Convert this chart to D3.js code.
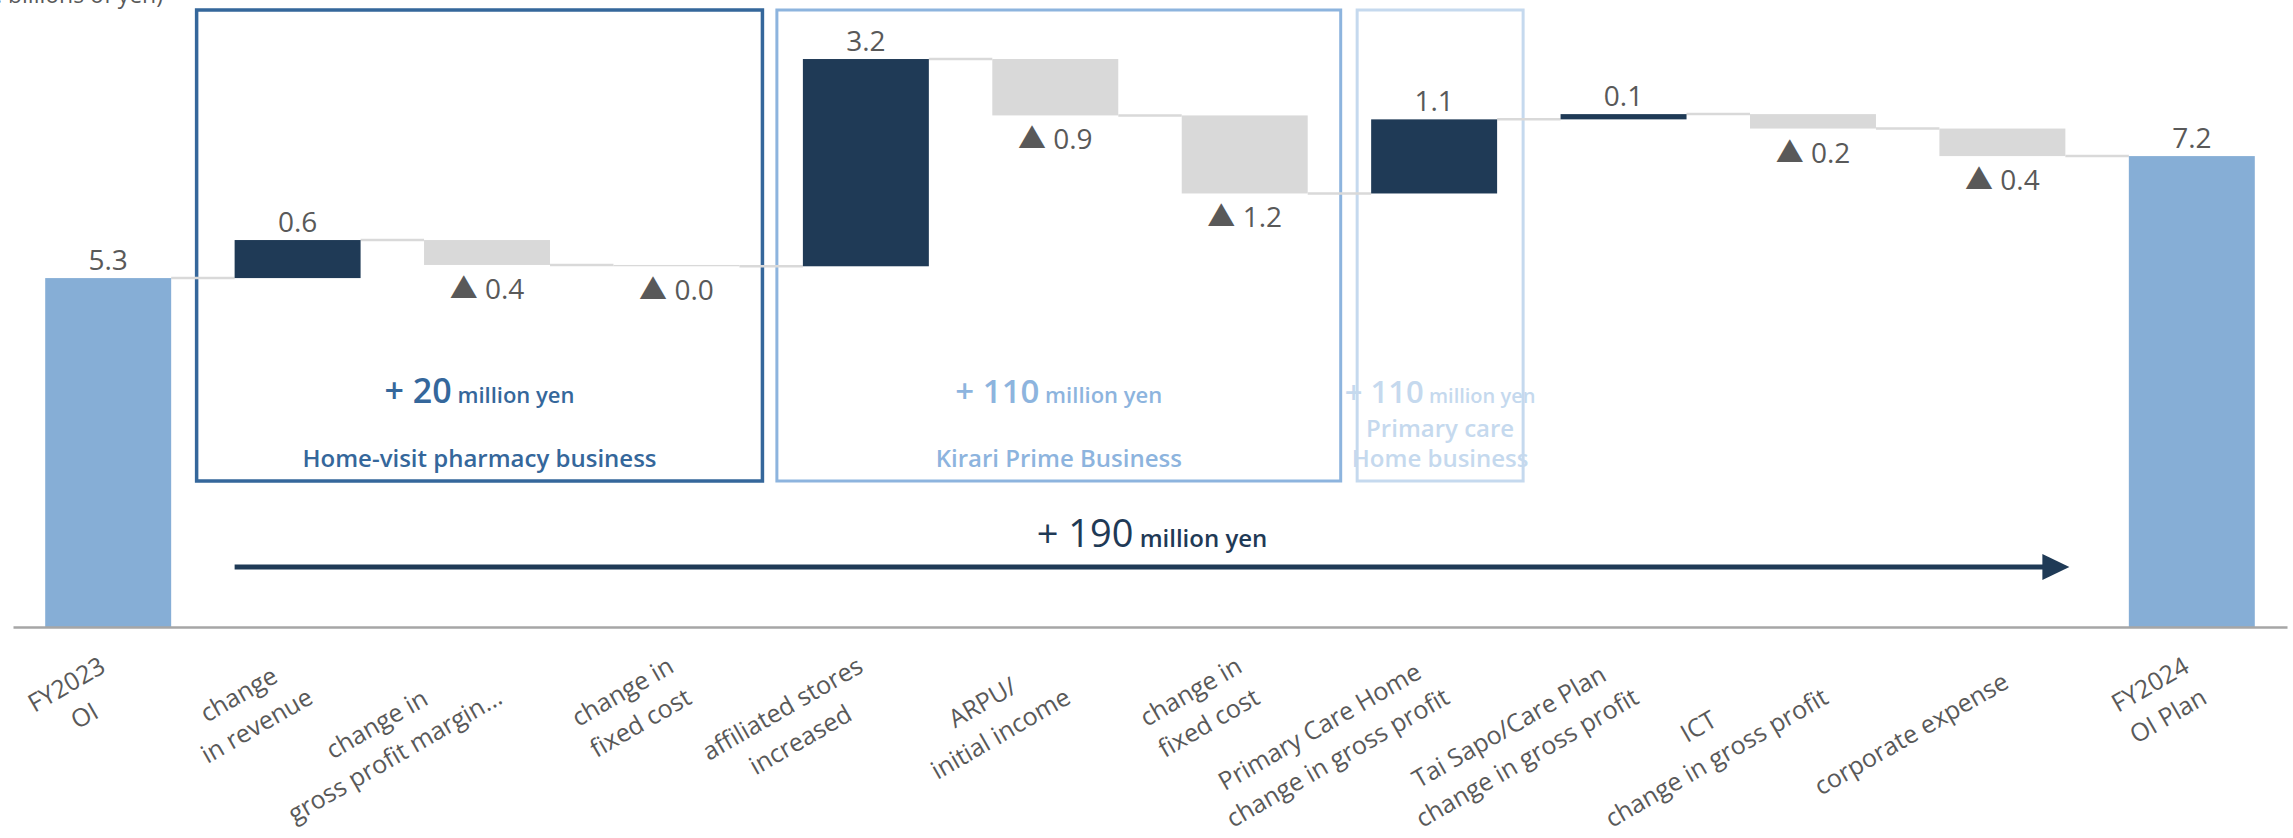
<!DOCTYPE html>
<html>
<head>
<meta charset="utf-8">
<script src="https://cdn.jsdelivr.net/npm/d3@7"></script>
<style>
  body { margin: 0; background: #fff; }
  svg { display: block; font-family: "Open Sans", "Noto Sans", sans-serif; }
</style>
</head>
<body>
<div id="chart"></div>
<script>
// x axis labels ("\n" = line break)
const categories = [
    "FY2023\nOI",
    "change\nin revenue",
    "change in\ngross profit margin...",
    "change in\nfixed cost",
    "affiliated stores\nincreased",
    "ARPU/\ninitial income",
    "change in\nfixed cost",
    "Primary Care Home\nchange in gross profit",
    "Tai Sapo/Care Plan\nchange in gross profit",
    "ICT\nchange in gross profit",
    "corporate expense",
    "FY2024\nOI Plan"
];

// billions of yen: first and last are totals, the rest are changes
const values = [5.32, 0.58, -0.38, -0.02, 3.16, -0.86, -1.19, 1.13, 0.08, -0.22, -0.42, 7.18];
const isTotal = [true, false, false, false, false, false, false, false, false, false, false, true];

// business groups drawn as boxes
const groupNames = ["Home-visit pharmacy business", "Kirari Prime Business", "Primary care\nHome business"];
const groupAmounts = ["20", "110", "110"];
const groupFrom = [1, 4, 7];
const groupTo = [3, 6, 7];

const totalAmount = "190";
const unitLabel = "(Unit: billions of yen)";

// styles
const boxStyles = [
    { color: "#35679B", width: 3.5, big: 34, small: 22, padL: 38, padR: 23 },
    { color: "#8DB4DE", width: 3, big: 33, small: 22, padL: 26, padR: 33 },
    { color: "#C5D9EE", width: 3, big: 31, small: 20, padL: 14, padR: 26 }
];
const colTotal = "#86AED6", colUp = "#1F3A56", colDown = "#D9D9D9", textGrey = "#595959";

const width = 2293, height = 838;

const svg = d3.select("#chart").append("svg")
    .attr("width", width)
    .attr("height", height);

svg.append("rect").attr("width", width).attr("height", height).attr("fill", "#fff");

const x = d3.scaleBand()
    .domain(d3.range(categories.length))
    .range([13, 2287])
    .paddingInner(0.335)
    .paddingOuter(0.17);

const y = d3.scaleLinear()
    .domain([0, 9.56])
    .range([627, 0]);

const bw = x.bandwidth();

// running totals
let run = 0;
const bars = values.map((v, i) => {
    if (isTotal[i]) {
        run = v;
        return { i, v, from: 0, to: v, total: true };
    }
    const from = run;
    run += v;
    return { i, v, from, to: run, total: false };
});

// unit label, clipped at the top like the original
svg.append("text")
    .attr("x", 163)
    .attr("y", 3)
    .attr("text-anchor", "end")
    .attr("font-size", 23)
    .attr("fill", textGrey)
    .text(unitLabel);

// group boxes
groupNames.forEach((name, k) => {
    const st = boxStyles[k];
    const x0 = x(groupFrom[k]) - st.padL;
    const x1 = x(groupTo[k]) + bw + st.padR;
    const cx = (x0 + x1) / 2;

    svg.append("rect")
        .attr("x", x0)
        .attr("y", 10)
        .attr("width", x1 - x0)
        .attr("height", 471)
        .attr("fill", "none")
        .attr("stroke", st.color)
        .attr("stroke-width", st.width);

    const amt = svg.append("text")
        .attr("x", cx)
        .attr("y", 403)
        .attr("text-anchor", "middle")
        .attr("fill", st.color)
        .attr("font-weight", 600);
    amt.append("tspan").attr("font-size", st.big).text("+ " + groupAmounts[k]);
    amt.append("tspan").attr("font-size", st.small).text(" million yen");

    const lines = name.split("\n");
    lines.forEach((ln, j) => {
        svg.append("text")
            .attr("x", cx)
            .attr("y", 467 - (lines.length - 1 - j) * 30)
            .attr("text-anchor", "middle")
            .attr("font-size", 24)
            .attr("font-weight", 600)
            .attr("fill", st.color)
            .text(ln);
    });
});

// connectors
svg.append("g").selectAll("line")
    .data(bars.slice(0, -1))
    .join("line")
    .attr("x1", d => x(d.i) + bw)
    .attr("x2", d => x(d.i + 1))
    .attr("y1", d => y(d.to))
    .attr("y2", d => y(d.to))
    .attr("stroke", colDown)
    .attr("stroke-width", 2.5);

// bars
svg.append("g").selectAll("rect")
    .data(bars)
    .join("rect")
    .attr("x", d => x(d.i))
    .attr("width", bw)
    .attr("y", d => y(Math.max(d.from, d.to)))
    .attr("height", d => Math.max(1.2, Math.abs(y(d.from) - y(d.to))))
    .attr("fill", d => d.total ? colTotal : (d.v >= 0 ? colUp : colDown));

// axis line
svg.append("g")
    .attr("transform", `translate(0,${y(0)})`)
    .call(d3.axisBottom(x).tickSize(0).tickSizeOuter(0).tickFormat(""))
    .call(g => g.select(".domain").attr("stroke", "#A6A6A6").attr("stroke-width", 2.5));

// value labels
const fmt = d3.format(".1f");
bars.forEach(d => {
    const cx = x(d.i) + bw / 2;
    if (d.total || d.v >= 0) {
        svg.append("text")
            .attr("x", cx)
            .attr("y", y(Math.max(d.from, d.to)) - 8)
            .attr("text-anchor", "middle")
            .attr("font-size", 28)
            .attr("fill", textGrey)
            .text(fmt(d.v));
    } else {
        const t = svg.append("text")
            .attr("x", cx)
            .attr("y", y(Math.min(d.from, d.to)) + 34)
            .attr("text-anchor", "middle")
            .attr("font-size", 28)
            .attr("fill", textGrey);
        t.append("tspan")
            .attr("font-family", "'Noto Sans CJK JP', 'DejaVu Sans', sans-serif")
            .text("▲");
        t.append("tspan").text(" " + fmt(Math.abs(d.v)));
    }
});

// x labels, rotated -30 deg, anchored at the right middle of the block
const L = 36;
categories.forEach((label, i) => {
    const g = svg.append("g")
        .attr("transform", `translate(${x(i) + bw / 2 + 3},678) rotate(-30)`);
    const lines = label.split("\n");
    const texts = lines.map((ln, k) => g.append("text")
        .attr("y", -lines.length * L / 2 + (k + 0.5) * L)
        .attr("dominant-baseline", "central")
        .attr("text-anchor", "middle")
        .attr("font-size", 25)
        .attr("fill", textGrey)
        .text(ln));
    const w = d3.max(texts, t => t.node().getComputedTextLength());
    texts.forEach(t => t.attr("x", -w / 2));
});

// overall change arrow
const ax0 = x(1), ax1 = x(10) + bw + 4, ay = 567;
svg.append("line")
    .attr("x1", ax0)
    .attr("x2", ax1 - 24)
    .attr("y1", ay)
    .attr("y2", ay)
    .attr("stroke", colUp)
    .attr("stroke-width", 5);
svg.append("path")
    .attr("d", `M${ax1},${ay} L${ax1 - 27},${ay - 13} L${ax1 - 27},${ay + 13} Z`)
    .attr("fill", colUp);

const tot = svg.append("text")
    .attr("x", (ax0 + ax1) / 2)
    .attr("y", 547)
    .attr("text-anchor", "middle")
    .attr("fill", colUp);
tot.append("tspan").attr("font-size", 38).text("+ " + totalAmount);
tot.append("tspan").attr("font-size", 24).attr("font-weight", 600).text(" million yen");
</script>
</body>
</html>
